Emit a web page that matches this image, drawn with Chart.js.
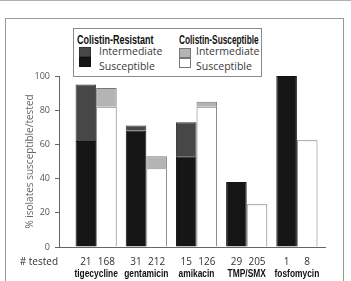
<!DOCTYPE html>
<html>
<head>
<meta charset="utf-8">
<script src="https://cdn.jsdelivr.net/npm/chart.js@4.4.1/dist/chart.umd.min.js"></script>
<style>
  html, body { margin: 0; padding: 0; background: #fff; }
  #wrap { position: relative; width: 351px; height: 281px; overflow: hidden; }
  #topline { position: absolute; left: 0; top: 0; width: 351px; height: 1px; background: #b0b0b0; }
  #frame { position: absolute; left: 5px; top: 18px; width: 339px; height: 300px; border: 1px solid #9a9a9a; box-sizing: border-box; }
  #legend { position: absolute; left: 73px; top: 28px; width: 189px; height: 49px; border: 1px solid #8a8a8a; box-sizing: border-box; background: #fff; font-family: "Open Sans", sans-serif; color: #3a3a3a; }
  .hdr { position: absolute; top: 4px; font: bold 12px "Liberation Sans", sans-serif; color: #111; white-space: nowrap; transform: scaleX(0.75); transform-origin: 0 0; }
  .sw { position: absolute; width: 12px; height: 10px; box-sizing: border-box; }
  .lbl { position: absolute; font-size: 10.5px; line-height: 13px; white-space: nowrap; }
  canvas { position: absolute; left: 0; top: 0; }
</style>
</head>
<body>
<div id="wrap">
  <div id="topline"></div>
  <div id="frame"></div>
  <canvas id="c" width="351" height="281"></canvas>
  <div id="legend"></div>
</div>
<script>
// drugs, isolates tested and % susceptible / intermediate
const drugs = ['tigecycline', 'gentamicin', 'amikacin', 'TMP/SMX', 'fosfomycin'];
const testedResistant = [21, 31, 15, 29, 1];
const testedSusceptible = [168, 212, 126, 205, 8];
const resSusc = [62, 68, 53, 38, 100];
const resInter = [33, 3, 20, 0, 0];
const susSusc = [82, 46, 82, 25, 62.5];
const susInter = [11, 7, 3, 0, 0];
const yTicks = [0, 20, 40, 60, 80, 100];

const C_RI = '#474747', C_RS = '#161616', C_SI = '#b4b4b4', C_SS = '#ffffff';

const pts = arr => arr.map((v, i) => ({ x: i + 1, y: v }));

// legend (two columns with headers)
const leg = document.getElementById('legend');
leg.innerHTML =
  '<div class="hdr" style="left:3px">Colistin-Resistant</div>' +
  '<div class="sw" style="left:5px;top:18px;background:' + C_RI + ';border:1px solid #333"></div>' +
  '<div class="sw" style="left:5px;top:28px;background:' + C_RS + ';border:1px solid #111"></div>' +
  '<div class="lbl" style="left:25px;top:16px">Intermediate</div>' +
  '<div class="lbl" style="left:25px;top:31px">Susceptible</div>' +
  '<div class="hdr" style="left:105px;transform:scaleX(0.69)">Colistin-Susceptible</div>' +
  '<div class="sw" style="left:105px;top:19px;background:' + C_SI + ';border:1px solid #777"></div>' +
  '<div class="sw" style="left:105px;top:29px;background:' + C_SS + ';border:1px solid #777"></div>' +
  '<div class="lbl" style="left:122px;top:16px">Intermediate</div>' +
  '<div class="lbl" style="left:122px;top:31px">Susceptible</div>';

// counts under each bar, "# tested" row label, and condensed bold drug names
const countsPlugin = {
  id: 'counts',
  afterDraw(chart) {
    const ctx = chart.ctx;
    const y = chart.chartArea.bottom + 15;
    ctx.save();
    ctx.font = '10px "Open Sans", sans-serif';
    ctx.fillStyle = '#333';
    ctx.textBaseline = 'middle';
    ctx.textAlign = 'center';
    chart.getDatasetMeta(0).data.forEach((b, i) => ctx.fillText(testedResistant[i], b.x, y));
    chart.getDatasetMeta(2).data.forEach((b, i) => ctx.fillText(testedSusceptible[i], b.x, y));
    ctx.textAlign = 'right';
    ctx.fillText('# tested', chart.chartArea.left - 1, y);

    const xs = chart.scales.x;
    ctx.font = 'bold 10.5px "Liberation Sans", sans-serif';
    ctx.fillStyle = '#111';
    ctx.textAlign = 'center';
    drugs.forEach((d, i) => {
      const cx = xs.getPixelForValue(i + 1);
      ctx.save();
      ctx.translate(cx, y + 12);
      ctx.scale(0.8, 1);
      ctx.fillText(d, 0, 0);
      ctx.restore();
    });
    ctx.restore();
  }
};

new Chart(document.getElementById('c'), {
  type: 'bar',
  data: {
    datasets: [
      { label: 'Resistant susceptible', data: pts(resSusc), stack: 'R', backgroundColor: C_RS, borderColor: '#111', borderWidth: 1 },
      { label: 'Resistant intermediate', data: pts(resInter), stack: 'R', backgroundColor: C_RI, borderColor: '#333', borderWidth: 1 },
      { label: 'Susceptible susceptible', data: pts(susSusc), stack: 'S', backgroundColor: C_SS, borderColor: '#777', borderWidth: 1 },
      { label: 'Susceptible intermediate', data: pts(susInter), stack: 'S', backgroundColor: C_SI, borderColor: '#777', borderWidth: 1 }
    ]
  },
  options: {
    responsive: false,
    animation: false,
    categoryPercentage: 0.82,
    barPercentage: 1.0,
    layout: { padding: { left: 0, top: 76, right: 26, bottom: 0 } },
    plugins: { legend: { display: false }, tooltip: { enabled: false } },
    scales: {
      x: {
        type: 'linear',
        offset: false,
        min: 0.26,
        max: 5.56,
        stacked: true,
        afterBuildTicks: s => { s.ticks = drugs.map((d, i) => ({ value: i + 1 })); },
        afterFit: s => { s.height = 34; },
        grid: { display: false, offset: false },
        border: { display: true, color: '#666', width: 1 },
        ticks: { display: false }
      },
      y: {
        stacked: true,
        min: 0,
        max: 100,
        afterBuildTicks: s => { s.ticks = yTicks.map(v => ({ value: v })); },
        afterFit: s => { s.width = 59; },
        grid: { drawOnChartArea: false, drawTicks: true, tickLength: 4, color: '#666' },
        border: { display: true, color: '#666', width: 1 },
        ticks: { font: { family: '"Open Sans", sans-serif', size: 9 }, color: '#555', padding: 5 },
        title: {
          display: true,
          text: '% isolates susceptible/tested',
          font: { family: '"Open Sans", sans-serif', size: 10 },
          color: '#666',
          padding: { top: 24, bottom: 0 }
        }
      }
    }
  },
  plugins: [countsPlugin]
});
</script>
</body>
</html>
